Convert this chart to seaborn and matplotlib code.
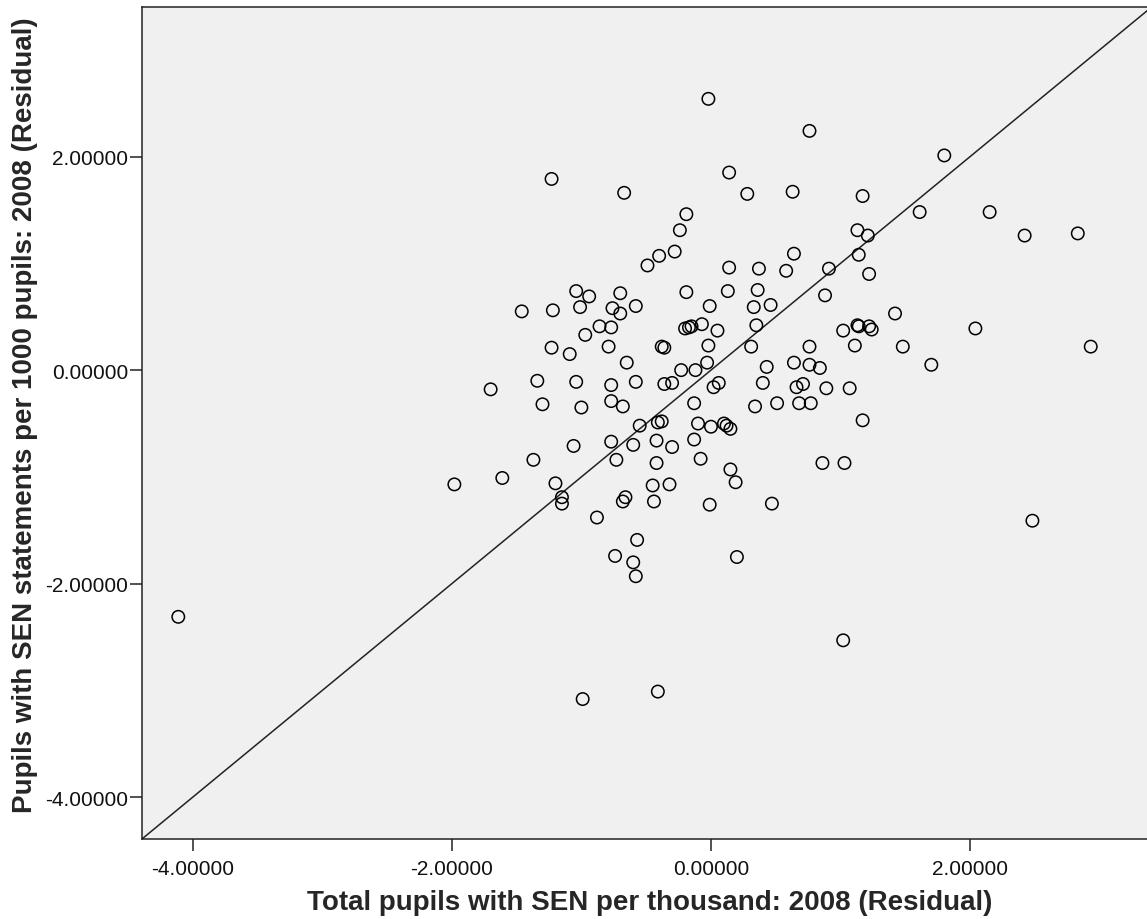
import numpy as np
import pandas as pd
import matplotlib
matplotlib.use('Agg')
import matplotlib.pyplot as plt
import seaborn as sns
from matplotlib.ticker import FormatStrFormatter

sns.set_style('ticks')
plt.rcParams['font.family'] = ['Liberation Sans', 'DejaVu Sans']
plt.rcParams['axes.unicode_minus'] = False

# residuals
total_sen = [
    -1.23, -0.67, -0.40, -0.49, -0.28, -1.04, -0.94, -0.70, -1.46, -1.22,
    -1.01, -0.76, -0.70, -0.58, -0.86, -0.77, -0.97, -1.23, -1.09, -0.79,
    -0.65, -0.38, -0.36, -1.70, -1.34, -1.04, -0.77, -0.58, -0.36, -0.30,
    -1.30, -1.00, -0.77, -0.68, -0.55, -0.41, -0.38, -0.77, -1.06, -0.60,
    -0.42, -0.30, -1.37, -0.73, -0.42, -1.61, -1.98, -1.20, -1.15, -1.15,
    -0.88, -0.66, -0.68, -0.45, -0.44, -0.32, -0.57, -0.74, -0.60, -0.58,
    -0.99, -0.41,
    -0.13, 0.34, 0.51, 0.68, 0.77, 1.17, -0.10, 0.00, 0.10, 0.12,
    0.15, -0.13, -0.08, 0.15, 0.19, 0.86, 1.03, -0.01, 0.47, 0.20,
    1.02, 2.48, -4.11,
    -0.02, 0.76, 0.14, 0.28, 0.63, 1.17, -0.19, -0.24, 1.13, 1.21,
    1.14, 0.64, 1.22, 0.14, 0.37, 0.58, 0.91, -0.19, 0.13, 0.36,
    0.88, -0.01, 0.33, 0.46, 1.42, -0.20, -0.17, -0.15, -0.07, 0.05,
    0.35, 1.02, 1.13, 1.14, 1.22, 1.24, 1.11, 1.48, -0.02, 0.31,
    0.76, -0.03, -0.23, -0.12, 0.43, 0.64, 0.76, 0.84, 0.02, 0.06,
    0.40, 0.66, 0.71, 0.89, 1.07,
    1.80, 1.61, 2.15, 2.42, 2.83, 2.04, 1.70, 2.93,
]
statements = [
    1.79, 1.66, 1.07, 0.98, 1.11, 0.74, 0.69, 0.72, 0.55, 0.56,
    0.59, 0.58, 0.53, 0.60, 0.41, 0.40, 0.33, 0.21, 0.15, 0.22,
    0.07, 0.22, 0.21, -0.18, -0.10, -0.11, -0.14, -0.11, -0.13, -0.12,
    -0.32, -0.35, -0.29, -0.34, -0.52, -0.49, -0.48, -0.67, -0.71, -0.70,
    -0.66, -0.72, -0.84, -0.84, -0.87, -1.01, -1.07, -1.06, -1.19, -1.25,
    -1.38, -1.19, -1.23, -1.08, -1.23, -1.07, -1.59, -1.74, -1.80, -1.93,
    -3.08, -3.01,
    -0.31, -0.34, -0.31, -0.31, -0.31, -0.47, -0.50, -0.53, -0.50, -0.52,
    -0.55, -0.65, -0.83, -0.93, -1.05, -0.87, -0.87, -1.26, -1.25, -1.75,
    -2.53, -1.41, -2.31,
    2.54, 2.24, 1.85, 1.65, 1.67, 1.63, 1.46, 1.31, 1.31, 1.26,
    1.08, 1.09, 0.90, 0.96, 0.95, 0.93, 0.95, 0.73, 0.74, 0.75,
    0.70, 0.60, 0.59, 0.61, 0.53, 0.39, 0.40, 0.41, 0.43, 0.37,
    0.42, 0.37, 0.42, 0.41, 0.41, 0.38, 0.23, 0.22, 0.23, 0.22,
    0.22, 0.07, 0.00, 0.00, 0.03, 0.07, 0.05, 0.02, -0.16, -0.12,
    -0.12, -0.16, -0.13, -0.17, -0.17,
    2.01, 1.48, 1.48, 1.26, 1.28, 0.39, 0.05, 0.22,
]
ticks = [-4, -2, 0, 2]

df = pd.DataFrame({'total': total_sen, 'statements': statements})

fig = plt.figure(figsize=(11.47, 9.2), dpi=100)
ax = fig.add_axes([0.1238, 0.0870, 0.878, 0.9043])
ax.set_facecolor('#f0f0f0')

sns.scatterplot(data=df, x='total', y='statements', ax=ax, s=80,
                fc='none', ec='black', linewidth=1.1, zorder=3)
ax.axline((0, 0), (1, 1), color='#222222', lw=1.1, zorder=2)

ax.set_xlim(-4.39, 3.38)
ax.set_ylim(-4.39, 3.40)
ax.set_xticks(ticks)
ax.set_yticks(ticks)
ax.xaxis.set_major_formatter(FormatStrFormatter('%.5f'))
ax.yaxis.set_major_formatter(FormatStrFormatter('%.5f'))
ax.tick_params(axis='both', direction='out', length=8.6, width=1.1,
               color='#222222', labelsize=15, labelcolor='#111111')
ax.tick_params(axis='x', pad=5.5)
ax.tick_params(axis='y', pad=1.5)
for side in ['left', 'bottom', 'top']:
    ax.spines[side].set_color('#222222')
    ax.spines[side].set_linewidth(1.1)
ax.spines['right'].set_visible(False)

ax.set_xlabel('Total pupils with SEN per thousand: 2008 (Residual)',
              fontsize=20, fontweight='bold')
ax.set_ylabel('Pupils with SEN statements per 1000 pupils: 2008 (Residual)',
              fontsize=20, fontweight='bold')
ax.xaxis.set_label_coords(0.504, -0.060)
ax.yaxis.set_label_coords(-0.1035, 0.51)

fig.savefig('out.png', dpi=100)
